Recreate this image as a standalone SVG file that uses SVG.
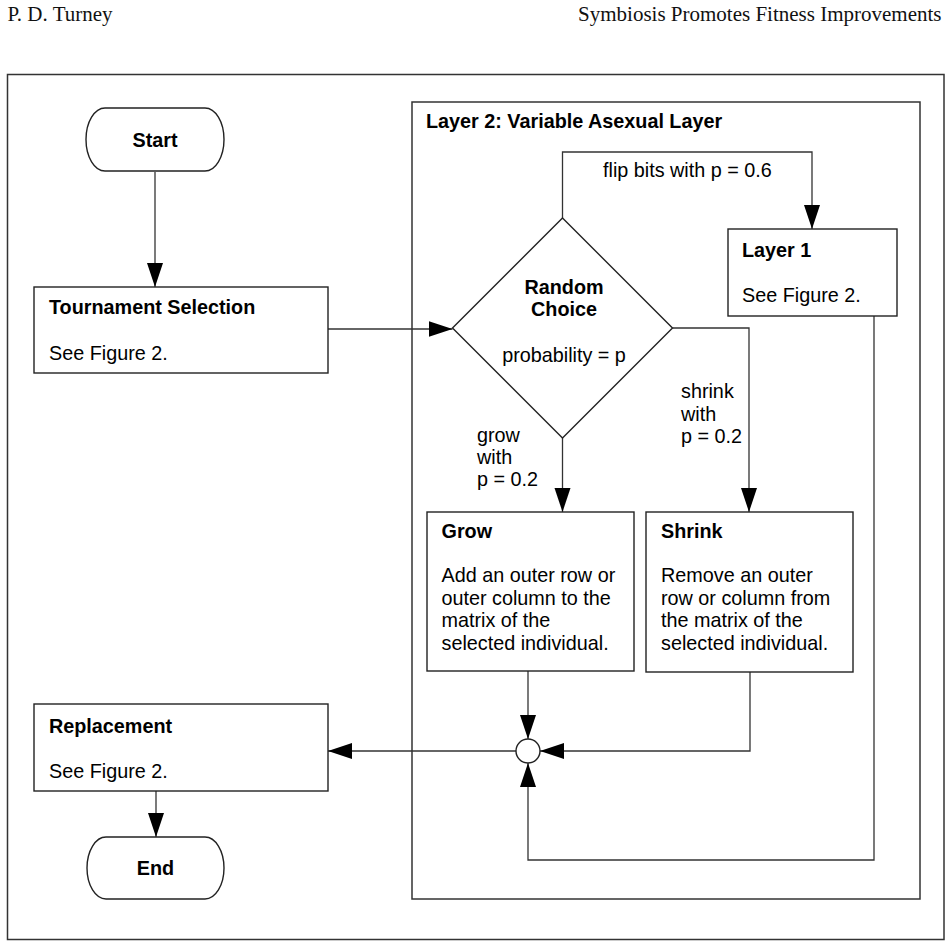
<svg xmlns="http://www.w3.org/2000/svg" width="951" height="947" viewBox="0 0 951 947">
<defs>
<style>
.hdr{font-family:"Liberation Serif","Times New Roman",serif;font-size:21px;fill:#111}
.t{font-family:"Liberation Sans",Arial,sans-serif;font-size:19.8px;fill:#000}
.b{font-weight:bold}
.m{text-anchor:middle}
.shape{fill:#fff;stroke:#222;stroke-width:1.4}
.frame{fill:none;stroke:#333;stroke-width:1.5}
.conn{fill:none;stroke:#333;stroke-width:1.3}
</style>
<marker id="arr" markerUnits="userSpaceOnUse" markerWidth="26" markerHeight="18" refX="24" refY="8" orient="auto">
<path d="M0,0 L24,8 L0,16 Z" fill="#000"/>
</marker>
</defs>
<rect width="951" height="947" fill="#fff"/>
<text class="hdr" x="7.5" y="20.5">P. D. Turney</text>
<text class="hdr" x="941.5" y="20.5" text-anchor="end">Symbiosis Promotes Fitness Improvements</text>
<rect id="outer-frame" class="frame" x="7.5" y="74.5" width="936.5" height="865"/>
<g id="layer2">
<rect class="frame" x="412" y="102" width="508" height="797"/>
<text class="t b" x="426" y="128">Layer 2: Variable Asexual Layer</text>
</g>
<g id="connectors">
<path class="conn" d="M155,172 V287" marker-end="url(#arr)"/>
<path class="conn" d="M328,329 H452.5" marker-end="url(#arr)"/>
<path class="conn" d="M562.5,218 V152 H812 V229" marker-end="url(#arr)"/>
<path class="conn" d="M672.5,328 H749 V512" marker-end="url(#arr)"/>
<path class="conn" d="M562.5,438 V512" marker-end="url(#arr)"/>
<path class="conn" d="M528,671 V739" marker-end="url(#arr)"/>
<path class="conn" d="M750,672 V751 H540" marker-end="url(#arr)"/>
<path class="conn" d="M874,316 V860 H528 V763" marker-end="url(#arr)"/>
<path class="conn" d="M516,751 H328" marker-end="url(#arr)"/>
<path class="conn" d="M156,791 V837" marker-end="url(#arr)"/>
<text class="t" x="603" y="177">flip bits with p = 0.6</text>
<text class="t" x="681" y="398">shrink</text>
<text class="t" x="681" y="420.5">with</text>
<text class="t" x="681" y="443">p = 0.2</text>
<text class="t" x="477" y="442">grow</text>
<text class="t" x="477" y="464">with</text>
<text class="t" x="477" y="486">p = 0.2</text>
</g>
<g id="start">
<path class="shape" d="M105,108 H205 A19,31.5 0 0 1 205,171 H105 A19,31.5 0 0 1 105,108 Z"/>
<text class="t b m" x="155" y="147">Start</text>
</g>
<g id="tournament">
<rect class="shape" x="34" y="287" width="294" height="86"/>
<text class="t b" x="49" y="314">Tournament Selection</text>
<text class="t" x="49" y="360">See Figure 2.</text>
</g>
<g id="random-choice">
<path class="shape" d="M562.5,218 L672.5,328 L562.5,438 L452.5,328 Z"/>
<text class="t b m" x="564" y="294">Random</text>
<text class="t b m" x="564" y="316">Choice</text>
<text class="t m" x="564" y="362">probability = p</text>
</g>
<g id="layer1">
<rect class="shape" x="728" y="229" width="169" height="87"/>
<text class="t b" x="742" y="257">Layer 1</text>
<text class="t" x="742" y="302">See Figure 2.</text>
</g>
<g id="grow">
<rect class="shape" x="427" y="512" width="207" height="159"/>
<text class="t b" x="441.5" y="538">Grow</text>
<text class="t" x="441.5" y="582">Add an outer row or</text>
<text class="t" x="441.5" y="604.5">outer column to the</text>
<text class="t" x="441.5" y="627">matrix of the</text>
<text class="t" x="441.5" y="649.5">selected individual.</text>
</g>
<g id="shrink">
<rect class="shape" x="646" y="512" width="207" height="160"/>
<text class="t b" x="661" y="538">Shrink</text>
<text class="t" x="661" y="582">Remove an outer</text>
<text class="t" x="661" y="604.5">row or column from</text>
<text class="t" x="661" y="627">the matrix of the</text>
<text class="t" x="661" y="649.5">selected individual.</text>
</g>
<g id="junction">
<circle class="shape" cx="528" cy="751" r="12"/>
</g>
<g id="replacement">
<rect class="shape" x="34" y="704" width="294" height="87"/>
<text class="t b" x="49" y="733">Replacement</text>
<text class="t" x="49" y="778">See Figure 2.</text>
</g>
<g id="end">
<path class="shape" d="M106,837 H205 A19,31 0 0 1 205,899 H106 A19,31 0 0 1 106,837 Z"/>
<text class="t b m" x="155.5" y="875">End</text>
</g>
</svg>
